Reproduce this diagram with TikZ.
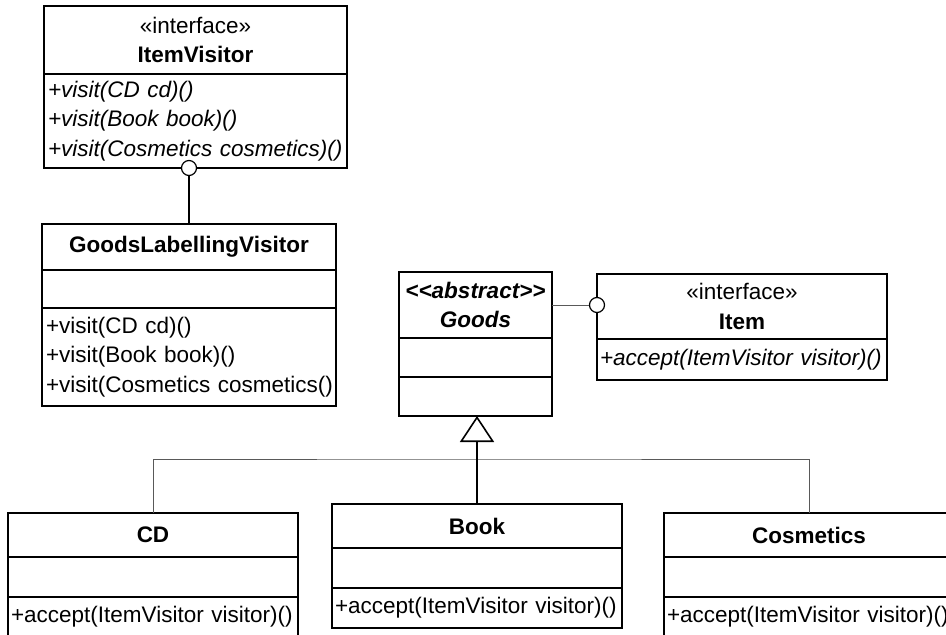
\documentclass[tikz,border=0pt]{standalone}
\usepackage{fontspec}
\setmainfont{Liberation Sans}
\usetikzlibrary{positioning, arrows.meta}

\newcommand{\umlfont}{\fontsize{22.5}{29.5}\selectfont}
\hyphenpenalty=10000
\exhyphenpenalty=10000

\tikzstyle{compart} = [rectangle, draw=black, line width=2pt, inner sep=0pt, outer sep=0pt, font=\umlfont]
\tikzstyle{head} = [compart, align=center]
\tikzstyle{attrs} = [compart]
\tikzstyle{ops} = [compart, align=left]
\tikzstyle{absops} = [ops, font=\umlfont\itshape]
\tikzstyle{port} = [circle, draw=black, fill=white, line width=1.2pt, minimum size=15pt, inner sep=0pt]
\tikzstyle{link} = [line width=1pt, draw=black!65]
\tikzstyle{gen} = [line width=1.6pt, -{Triangle[open, length=26pt, width=34pt]}]

\begin{document}
\begin{tikzpicture}[x=1pt, y=1pt]
    \useasboundingbox (0,0) rectangle (946,-635);
    \clip (0,0) rectangle (946,-635);

    % interface ItemVisitor
    \node (ivhead) [head, anchor=north west, minimum width=303pt, minimum height=68pt] at (44,-6) {«interface»\\\textbf{ItemVisitor}};
    \node (ivops) [absops, below=0pt of ivhead, minimum width=303pt, minimum height=94pt, text width=295pt] {+visit(CD~cd)()\\+visit(Book~book)()\\+visit(Cosmetics~cosmetics)()};

    % GoodsLabellingVisitor
    \node (glvhead) [head, anchor=north west, minimum width=294pt, minimum height=46pt] at (42,-224) {\textbf{GoodsLabellingVisitor}};
    \node (glvattr) [attrs, below=0pt of glvhead, minimum width=294pt, minimum height=38pt] {};
    \node (glvops) [ops, below=0pt of glvattr, minimum width=294pt, minimum height=98pt, text width=286pt] {+visit(CD~cd)()\\+visit(Book~book)()\\+visit(Cosmetics~cosmetics()};

    % abstract Goods
    \node (goodshead) [head, anchor=north west, minimum width=153pt, minimum height=66pt, font=\umlfont\bfseries\itshape] at (399,-272) {<\kern0pt<abstract>\kern0pt>\\Goods};
    \node (goodsattr) [attrs, below=0pt of goodshead, minimum width=153pt, minimum height=39pt] {};
    \node (goodsops) [attrs, below=0pt of goodsattr, minimum width=153pt, minimum height=39pt] {};

    % interface Item
    \node (itemhead) [head, anchor=north west, minimum width=290pt, minimum height=65pt] at (597,-274) {«interface»\\\textbf{Item}};
    \node (itemops) [absops, below=0pt of itemhead, minimum width=290pt, minimum height=41pt, text width=284pt] {+accept(ItemVisitor~visitor)()};

    % CD, Book, Cosmetics
    \node (cdhead) [head, anchor=north west, minimum width=290pt, minimum height=44pt] at (8,-513) {\textbf{CD}};
    \node (cdattr) [attrs, below=0pt of cdhead, minimum width=290pt, minimum height=40pt] {};
    \node (cdops) [ops, below=0pt of cdattr, minimum width=290pt, minimum height=40pt, text width=284pt] {+accept(ItemVisitor~visitor)()};

    \node (bookhead) [head, anchor=north west, minimum width=290pt, minimum height=44pt] at (332,-504) {\textbf{Book}};
    \node (bookattr) [attrs, below=0pt of bookhead, minimum width=290pt, minimum height=40pt] {};
    \node (bookops) [ops, below=0pt of bookattr, minimum width=290pt, minimum height=40pt, text width=284pt] {+accept(ItemVisitor~visitor)()};

    \node (coshead) [head, anchor=north west, minimum width=290pt, minimum height=44pt] at (664,-513) {\textbf{Cosmetics}};
    \node (cosattr) [attrs, below=0pt of coshead, minimum width=290pt, minimum height=40pt] {};
    \node (cosops) [ops, below=0pt of cosattr, minimum width=290pt, minimum height=40pt, text width=284pt] {+accept(ItemVisitor~visitor)()};

    % lollipops
    \node (ivport) [port] at (glvhead.north |- ivops.south) {};
    \node (itemport) [port] at (itemhead.west |- goodshead.east) {};
    \draw[line width=1.2pt] (ivport) -- (glvhead);
    \draw[link] (goodshead) -- (itemport);

    % generalisation
    \coordinate (bus) at (477,-459);
    \draw[link] (cdhead.north) |- (bus) -| (coshead.north);
    \draw[gen] (bookhead.north) -- (bookhead.north |- goodsops.south);

\end{tikzpicture}
\end{document}
